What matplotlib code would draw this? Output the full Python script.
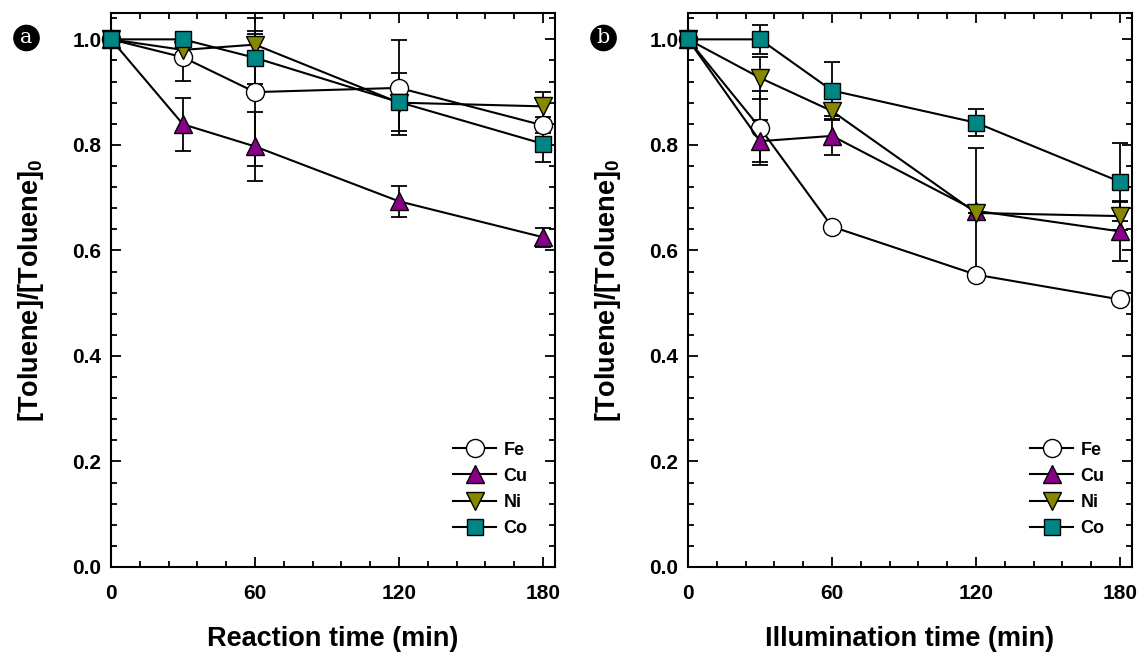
import numpy as np
import matplotlib
matplotlib.use("Agg")
import matplotlib.pyplot as plt
from matplotlib.ticker import MultipleLocator, FormatStrFormatter

plt.rcParams["font.family"] = ["Liberation Sans", "DejaVu Sans"]
plt.rcParams["mathtext.default"] = "regular"

# ── data ──
time = [0, 30, 60, 120, 180]
metals = ["Fe", "Cu", "Ni", "Co"]

# panel a: reaction time
fe_a = [1.0, 0.966, 0.900, 0.908, 0.837]
cu_a = [1.0, 0.839, 0.797, 0.693, 0.625]
ni_a = [1.0, 0.980, 0.990, 0.880, 0.873]
co_a = [1.0, 1.000, 0.965, 0.881, 0.802]
fe_a_err = [0, 0.045, 0.14, 0.09, 0.015]
cu_a_err = [0, 0.050, 0.066, 0.029, 0.018]
ni_a_err = [0, 0.010, 0.020, 0.000, 0.028]
co_a_err = [0, 0.000, 0.050, 0.055, 0.035]

# panel b: illumination time
fe_b = [1.0, 0.832, 0.645, 0.554, 0.507]
cu_b = [1.0, 0.807, 0.817, 0.675, 0.636]
ni_b = [1.0, 0.927, 0.864, 0.671, 0.665]
co_b = [1.0, 1.000, 0.903, 0.842, 0.730]
fe_b_err = [0, 0.070, 0.000, 0.000, 0.000]
cu_b_err = [0, 0.040, 0.037, 0.120, 0.057]
ni_b_err = [0, 0.040, 0.015, 0.000, 0.026]
co_b_err = [0, 0.027, 0.055, 0.026, 0.074]

styles = {
    "Fe": dict(marker="o", mfc="white", ms=13),
    "Cu": dict(marker="^", mfc="#880088", ms=13),
    "Ni": dict(marker="v", mfc="#888800", ms=13),
    "Co": dict(marker="s", mfc="#008585", ms=11.5),
}


def draw_panel(ax, series, errs, xlabel, tag, fig):
    for name, y, e in zip(metals, series, errs):
        st = styles[name]
        ax.errorbar(time, y, yerr=e, fmt="none", ecolor="black",
                    elinewidth=1.3, capsize=6, capthick=1.3,
                    clip_on=False, zorder=2)
        ax.plot(time, y, color="black", lw=1.5, marker=st["marker"],
                mfc=st["mfc"], mec="black", mew=1.0, ms=st["ms"],
                label=name, clip_on=False, zorder=3)
    ax.set_xlim(0, 185)
    ax.set_ylim(0, 1.05)
    ax.set_xticks([0, 60, 120, 180])
    ax.set_yticks(np.arange(0, 1.01, 0.2))
    ax.xaxis.set_minor_locator(MultipleLocator(12))
    ax.yaxis.set_minor_locator(MultipleLocator(0.04))
    ax.yaxis.set_major_formatter(FormatStrFormatter("%.1f"))
    ax.tick_params(which="both", direction="in", top=True, right=True,
                   width=1.3)
    ax.tick_params(which="major", length=7, labelsize=15)
    ax.tick_params(axis="x", which="major", pad=12)
    ax.tick_params(axis="y", which="major", pad=7)
    ax.tick_params(which="minor", length=4)
    for lab in ax.get_xticklabels() + ax.get_yticklabels():
        lab.set_fontweight("bold")
    for sp in ax.spines.values():
        sp.set_linewidth(1.5)
    ax.set_xlabel(xlabel, fontsize=19.5, fontweight="bold", labelpad=17)
    ax.set_ylabel("[Toluene]/[Toluene]$_{0}$", fontsize=19.5,
                  fontweight="bold", labelpad=19)
    leg = ax.legend(loc="lower right", frameon=False, fontsize=13,
                    handlelength=2.4, labelspacing=0.5,
                    bbox_to_anchor=(0.975, 0.025), handletextpad=0.4)
    for t in leg.get_texts():
        t.set_fontweight("bold")
    # panel tag
    pos = ax.get_position()
    fig.text(pos.x0 - 0.074, 0.942, tag, ha="center", va="center",
             color="white", fontsize=15, family="DejaVu Serif",
             bbox=dict(boxstyle="circle,pad=0.15", fc="black", ec="black"))


fig = plt.figure(figsize=(11.42, 6.55), dpi=100)
ax_a = fig.add_axes([0.0972, 0.1344, 0.3888, 0.8458])
ax_b = fig.add_axes([0.6025, 0.1344, 0.3888, 0.8458])

draw_panel(ax_a, [fe_a, cu_a, ni_a, co_a],
           [fe_a_err, cu_a_err, ni_a_err, co_a_err],
           "Reaction time (min)", "a", fig)
draw_panel(ax_b, [fe_b, cu_b, ni_b, co_b],
           [fe_b_err, cu_b_err, ni_b_err, co_b_err],
           "Illumination time (min)", "b", fig)

fig.savefig("out.png", dpi=100)
